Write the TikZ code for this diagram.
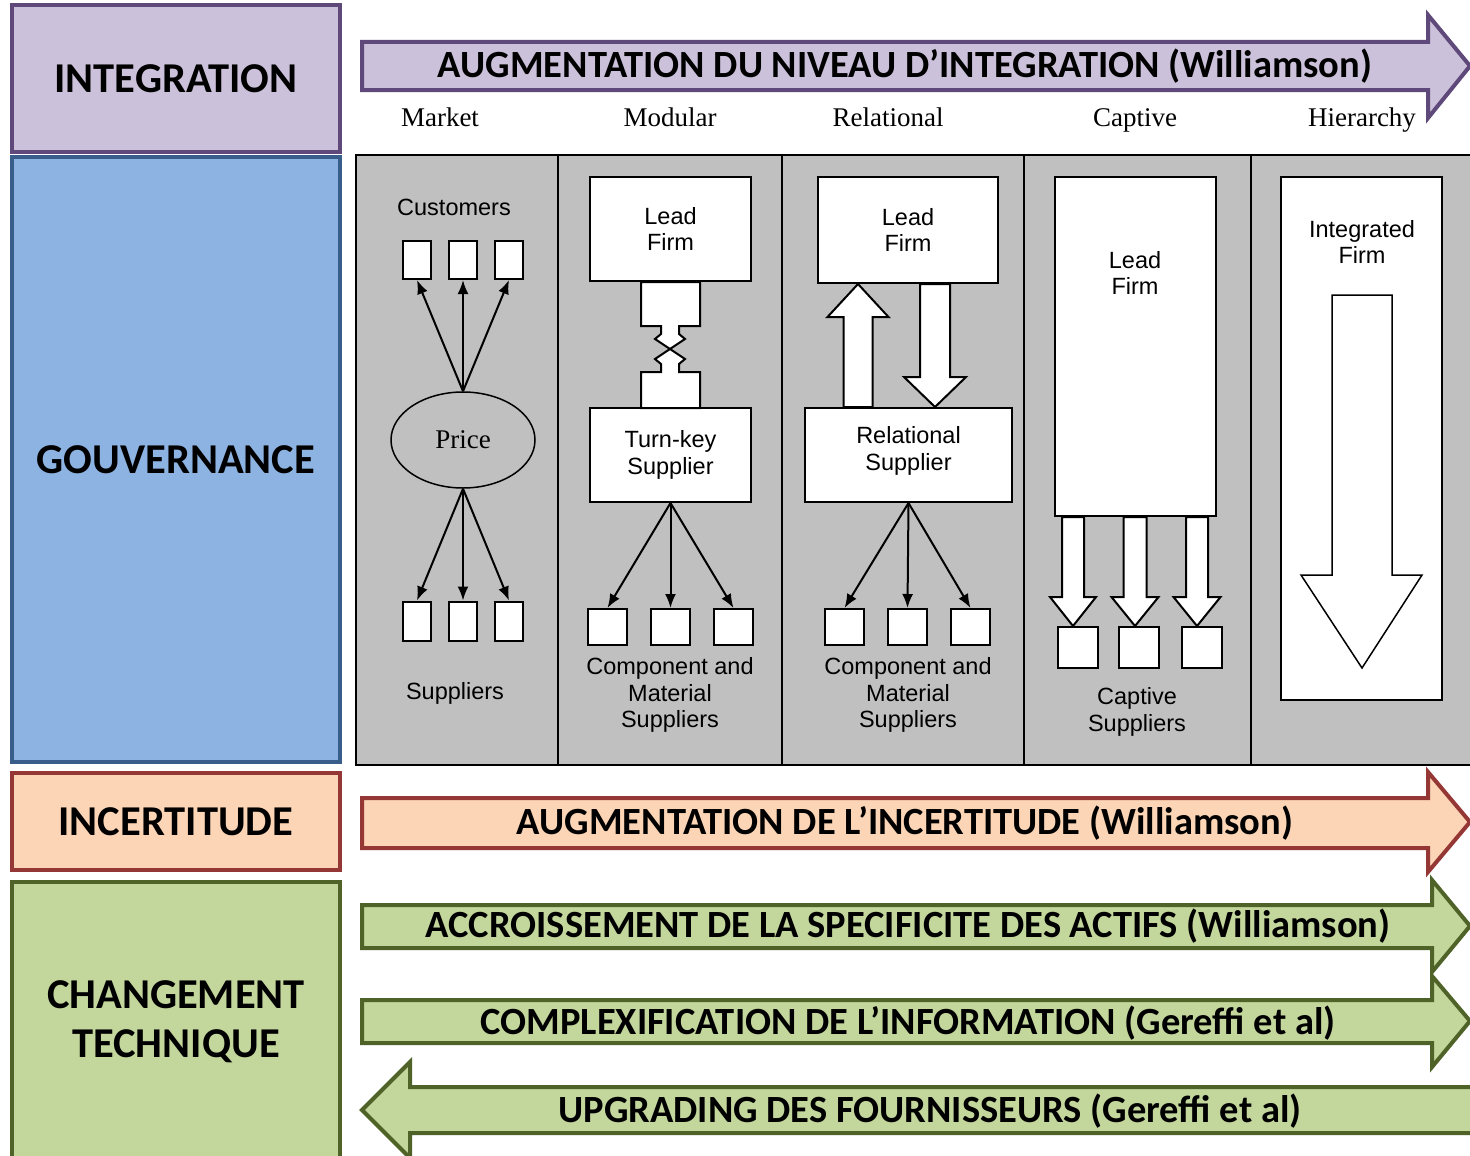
\documentclass[tikz,border=0pt]{standalone}
\usepackage{fontspec}
\setmainfont{Liberation Serif}
\setsansfont{Liberation Sans}
\newfontfamily\calibri{Carlito}
\usetikzlibrary{arrows.meta,positioning,calc,shapes.geometric}
\definecolor{lavfill}{HTML}{CCC1DA}
\definecolor{lavline}{HTML}{5F497A}
\definecolor{govfill}{HTML}{8DB3E2}
\definecolor{govline}{HTML}{385D8A}
\definecolor{incfill}{HTML}{FBD5B5}
\definecolor{incline}{HTML}{953735}
\definecolor{tecfill}{HTML}{C3D69B}
\definecolor{tecline}{HTML}{4F6228}
\definecolor{panelgrey}{HTML}{C0C0C0}

% vertical block arrow: from, to, x, half shaft, half head, signed head length
\newcommand{\vblock}[6]{%
  \draw[block] let \p1=(#1), \p2=(#2) in
    ({#3pt-#4pt},\y1) -- ({#3pt-#4pt},{\y2+(#6pt)}) -- ({#3pt-#5pt},{\y2+(#6pt)})
    -- ({#3pt},\y2) -- ({#3pt+#5pt},{\y2+(#6pt)}) -- ({#3pt+#4pt},{\y2+(#6pt)})
    -- ({#3pt+#4pt},\y1) -- cycle;}

\begin{document}
\begin{tikzpicture}[x=1pt,y=-1pt,
    lbl/.style={font=\calibri\bfseries\fontsize{42.5}{51}\selectfont, align=center, inner sep=0pt},
    side box/.style={draw, line width=4pt, minimum width=328pt, inner sep=0pt},
    band/.style={line width=4pt, line join=miter},
    band text/.style={font=\calibri\bfseries\fontsize{38.5}{46}\selectfont, inner sep=0pt},
    col label/.style={font=\rmfamily\fontsize{27}{30}\selectfont, inner sep=0pt, anchor=base},
    gov text/.style={font=\sffamily\fontsize{23.5}{26.5}\selectfont, align=center, inner sep=0pt},
    white box/.style={draw, fill=white, line width=2pt, inner sep=0pt},
    tiny box/.style={white box, minimum width=28pt, minimum height=38pt},
    sq box/.style={white box, minimum width=39pt, minimum height=36pt},
    cap box/.style={white box, minimum width=40pt, minimum height=41pt},
    thin arrow/.style={-{Latex[length=14pt,width=11pt]}, line width=2pt},
    block/.style={draw, fill=white, line width=2pt, line join=miter}
  ]
  \useasboundingbox (0,0) rectangle (1470,1156);
  \clip (0,0) rectangle (1470,1156);
  \fill[white] (0,0) rectangle (1470,1156);

  % Left headings
  \node[side box, fill=lavfill, draw=lavline, minimum height=147pt, lbl] (integ) at (176,78.5) {INTEGRATION};
  \node[side box, fill=govfill, draw=govline, minimum height=605pt, lbl] (gouv) at (176,459.5) {GOUVERNANCE};
  \node[side box, fill=incfill, draw=incline, minimum height=97pt, lbl] (incert) at (176,821.5) {INCERTITUDE};
  \node[side box, fill=tecfill, draw=tecline, minimum height=280pt, lbl] (chgt) at (176,1022) {CHANGEMENT\\[-2pt]TECHNIQUE};

  % Integration arrow and column labels
  \filldraw[band, fill=lavfill, draw=lavline] (362,42) -- (1428,42) -- (1428,15) -- (1470,66)
    -- (1428,118) -- (1428,90) -- (362,90) -- cycle;
  \node[band text] (t-integ) at (905,66) {AUGMENTATION DU NIVEAU D’INTEGRATION (Williamson)};
  \node[col label] (market) at (440,126) {Market};
  \node[col label] (modular) at (670,126) {Modular};
  \node[col label] (relational) at (888,126) {Relational};
  \node[col label] (captive) at (1135,126) {Captive};
  \node[col label] (hierarchy) at (1362,126) {Hierarchy};

  % Governance panel
  \filldraw[fill=panelgrey, draw=black, line width=2pt] (356,155) rectangle (1476,765);
  \foreach \xd in {558,782,1024,1251}
    \draw[line width=2pt] (\xd,155) -- (\xd,765);

  % Market
  \node[gov text] (customers) at (454,207) {Customers};
  \node[tiny box] (cust1) at (417,260) {};
  \node[tiny box] (cust2) at (463,260) {};
  \node[tiny box] (cust3) at (509,260) {};
  \node[ellipse, draw, line width=1.5pt, minimum width=144pt, minimum height=96pt, inner sep=0pt,
        font=\rmfamily\fontsize{27}{30}\selectfont] (price) at (463,440) {Price};
  \node[tiny box, minimum height=39pt] (sup1) at (417,621) {};
  \node[tiny box, minimum height=39pt] (sup2) at (463,621) {};
  \node[tiny box, minimum height=39pt] (sup3) at (509,621) {};
  \node[gov text] (suppliers) at (455,693) {Suppliers};
  \foreach \c in {cust1,cust2,cust3}
    \draw[thin arrow] (price.north) -- (\c.south);
  \foreach \s in {sup1,sup2,sup3}
    \draw[thin arrow] (price.south) -- (\s.north);

  % Modular
  \node[white box, minimum width=161pt, minimum height=104pt, gov text] (leadM) at (670.5,229) {Lead\\Firm};
  \node[white box, minimum width=161pt, minimum height=94pt, gov text] (turnkey) at (670.5,455) {Turn-key\\Supplier};
  \filldraw[block] (641,282) -- (641,326) -- (661,326) -- (661,334) -- (655,339) -- (670,349)
    -- (685,339) -- (679,334) -- (679,326) -- (700,326) -- (700,282) -- cycle;
  \filldraw[block] (641,408) -- (641,372) -- (661,372) -- (661,364) -- (655,359) -- (670,349)
    -- (685,359) -- (679,364) -- (679,372) -- (700,372) -- (700,408) -- cycle;
  \node[sq box] (modc1) at (607.5,627) {};
  \node[sq box] (modc2) at (670.5,627) {};
  \node[sq box] (modc3) at (733.5,627) {};
  \foreach \m in {modc1,modc2,modc3}
    \draw[thin arrow] (turnkey.south) -- (\m.north);
  \node[gov text] (modsup) at (670,695) {Component and\\Material\\Suppliers};

  % Relational
  \node[white box, minimum width=180pt, minimum height=106pt, gov text] (leadR) at (908,230) {Lead\\Firm};
  \node[white box, minimum width=207pt, minimum height=94pt] (relsup) at (908.5,455) {};
  \node[gov text] (relsup-txt) at (908.5,451) {Relational\\Supplier};
  \vblock{relsup.north}{leadR.south}{858}{14.5}{30.5}{-33}
  \vblock{leadR.south}{relsup.north}{935}{15}{31}{30}
  \node[sq box] (relc1) at (844.5,627) {};
  \node[sq box] (relc2) at (907.5,627) {};
  \node[sq box] (relc3) at (970.5,627) {};
  \foreach \r in {relc1,relc2,relc3}
    \draw[thin arrow] (relsup.south) -- (\r.north);
  \node[gov text] (relcomp) at (908,695) {Component and\\Material\\Suppliers};

  % Captive
  \node[white box, minimum width=161pt, minimum height=339pt] (leadC) at (1135.5,346.5) {};
  \node[gov text] (leadC-txt) at (1135,273) {Lead\\Firm};
  \node[cap box] (cap1) at (1078,647.5) {};
  \node[cap box] (cap2) at (1139,647.5) {};
  \node[cap box] (cap3) at (1201.5,647.5) {};
  \vblock{leadC.south}{cap1.north}{1073}{11}{23}{29}
  \vblock{leadC.south}{cap2.north}{1135}{11.5}{23.5}{29}
  \vblock{leadC.south}{cap3.north}{1197}{11}{23.5}{29}
  \node[gov text] (capsup) at (1137,712) {Captive\\Suppliers};

  % Hierarchy
  \node[white box, minimum width=161pt, minimum height=523pt] (intF) at (1361.5,438.5) {};
  \node[gov text] (intF-txt) at (1362,242) {Integrated\\Firm};
  \filldraw[block, line width=1.5pt] (1332,295) -- (1332,575) -- (1301,575) -- (1362,668)
    -- (1422,575) -- (1392,575) -- (1392,295) -- cycle;

  % Lower arrows
  \filldraw[band, fill=incfill, draw=incline] (362,798) -- (1428,798) -- (1428,772) -- (1470,822)
    -- (1428,872) -- (1428,848) -- (362,848) -- cycle;
  \node[band text] (t-incert) at (905,823) {AUGMENTATION DE L’INCERTITUDE (Williamson)};
  \filldraw[band, fill=tecfill, draw=tecline] (362,905) -- (1432,905) -- (1432,880) -- (1470,926)
    -- (1432,972) -- (1432,948) -- (362,948) -- cycle;
  \node[band text] (t-actifs) at (908,926) {ACCROISSEMENT DE LA SPECIFICITE DES ACTIFS (Williamson)};
  \filldraw[band, fill=tecfill, draw=tecline] (362,1000) -- (1432,1000) -- (1432,976) -- (1470,1021)
    -- (1432,1067) -- (1432,1043) -- (362,1043) -- cycle;
  \node[band text] (t-info) at (908,1023) {COMPLEXIFICATION DE L’INFORMATION (Gereffi et al)};
  \filldraw[band, fill=tecfill, draw=tecline] (1478,1087) -- (410,1087) -- (410,1062) -- (362,1110)
    -- (410,1158) -- (410,1133) -- (1478,1133) -- cycle;
  \node[band text] (t-upgr) at (930,1111) {UPGRADING DES FOURNISSEURS (Gereffi et al)};
\end{tikzpicture}
\end{document}
